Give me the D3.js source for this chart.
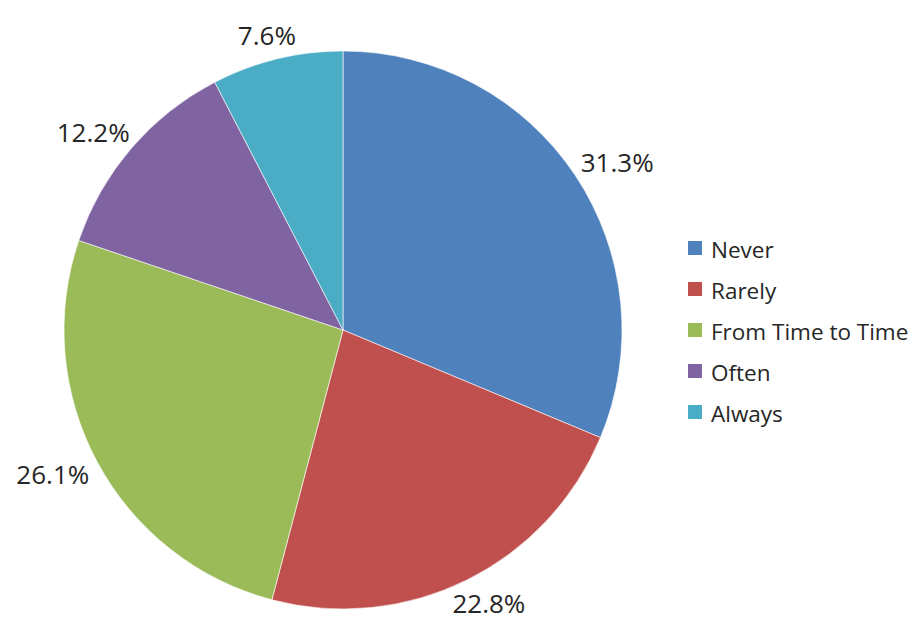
<!DOCTYPE html>
<html>
<head>
<meta charset="utf-8">
<script src="https://cdn.jsdelivr.net/npm/d3@7"></script>
<style>
  html, body { margin: 0; padding: 0; background: #ffffff; }
  svg { display: block; }
  text { font-family: "Open Sans", "Noto Sans", sans-serif; fill: #262626; }
</style>
</head>
<body>
<svg id="chart" width="921" height="624"></svg>
<script>
// Survey answers, share of respondents in percent
const categories = ["Never", "Rarely", "From Time to Time", "Often", "Always"];
const shares = [31.3, 22.8, 26.1, 12.2, 7.6];
const colors = ["#4F81BD", "#C0504D", "#9BBB59", "#8064A2", "#4BACC6"];

const width = 921, height = 624;
const svg = d3.select("#chart");
const cx = 343, cy = 330, radius = 279;

const data = categories.map((c, i) => ({ category: c, value: shares[i] }));

const pie = d3.pie()
  .value(d => d.value)
  .sort(null)
  .startAngle(0)
  .endAngle(2 * Math.PI);

const arcs = pie(data);
const arc = d3.arc().innerRadius(0).outerRadius(radius);

const color = d3.scaleOrdinal().domain(categories).range(colors);

const g = svg.append("g").attr("transform", `translate(${cx},${cy})`);

g.selectAll("path.slice")
  .data(arcs)
  .join("path")
  .attr("class", "slice")
  .attr("d", arc)
  .attr("fill", d => color(d.data.category))
  .attr("stroke", "#ffffff")
  .attr("stroke-width", 0.6);

// Percentage labels just outside the rim, box edge facing the slice
const labelSize = 26;
const labelGap = 14;
const fmt = d3.format(".1f");
const labels = g.selectAll("text.pct")
  .data(arcs)
  .join("text")
  .attr("class", "pct")
  .attr("font-size", labelSize)
  .attr("text-anchor", "middle")
  .attr("dominant-baseline", "central")
  .text(d => fmt(d.data.value) + "%");

labels.each(function(d) {
  const bb = this.getBBox();
  const halfH = labelSize * 0.42;
  const a = (d.startAngle + d.endAngle) / 2;
  const s = Math.sin(a), c = Math.cos(a);
  const r = radius + labelGap;
  let x = r * s + s * bb.width / 2;
  let y = -r * c - c * halfH;
  // keep the label inside the drawing area
  y = Math.max(-cy + halfH + 4, Math.min(height - cy - halfH - 6, y));
  x = Math.max(-cx + bb.width / 2 + 4, x);
  d3.select(this).attr("x", x).attr("y", y);
});

// Legend
const legend = svg.append("g").attr("transform", "translate(688,248)");
const item = legend.selectAll("g.item")
  .data(categories)
  .join("g")
  .attr("class", "item")
  .attr("transform", (d, i) => `translate(0,${i * 41})`);

item.append("rect")
  .attr("x", 0).attr("y", -7)
  .attr("width", 14).attr("height", 14)
  .attr("fill", d => color(d));

item.append("text")
  .attr("x", 23)
  .attr("y", 1)
  .attr("dominant-baseline", "central")
  .attr("font-size", 22.5)
  .text(d => d);
</script>
</body>
</html>
